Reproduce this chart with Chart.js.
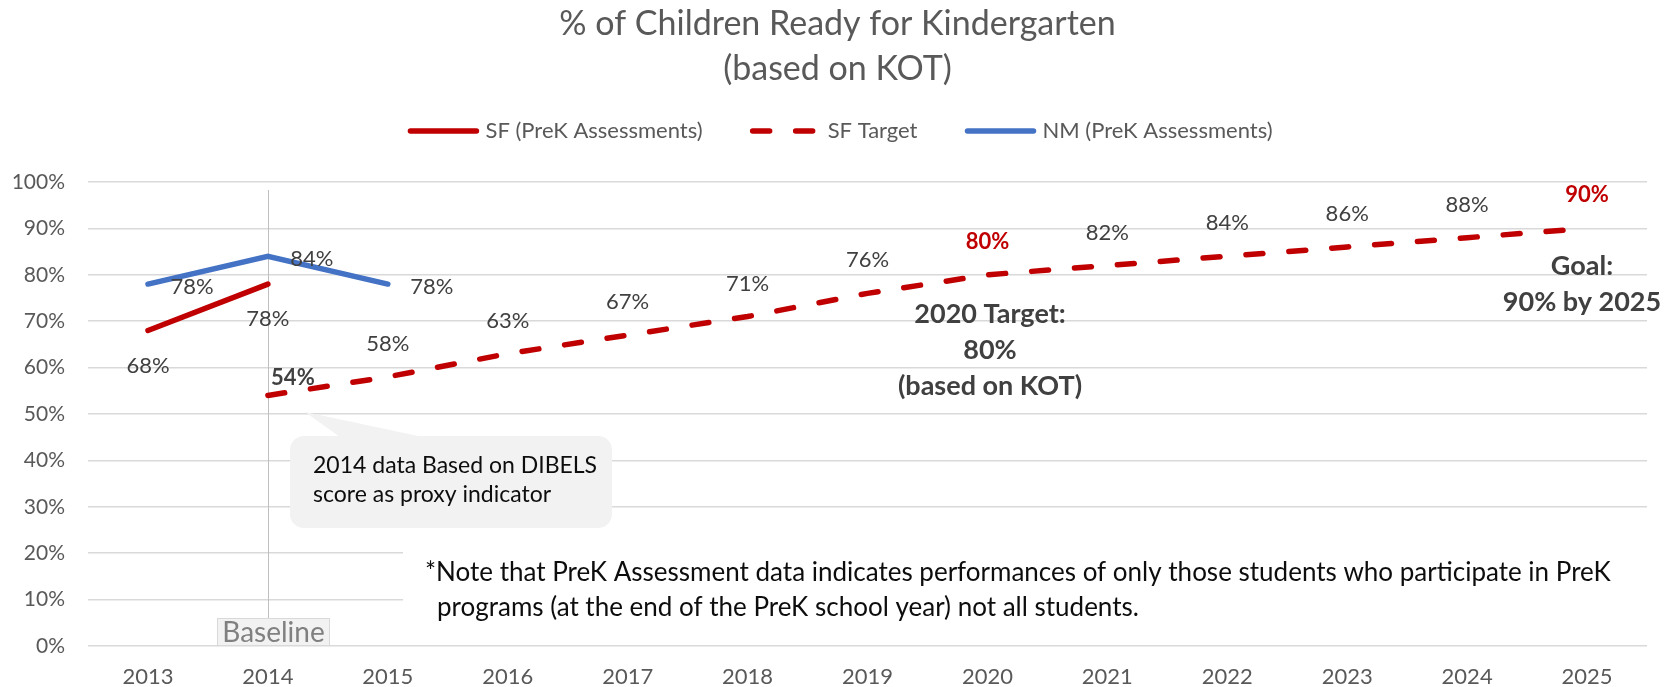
<!DOCTYPE html>
<html>
<head>
<meta charset="utf-8">
<title>% of Children Ready for Kindergarten</title>
<script src="https://cdn.jsdelivr.net/npm/chart.js@4.4.1/dist/chart.umd.min.js"></script>
<style>
  html, body { margin: 0; padding: 0; background: #ffffff; }
  #wrap { width: 1675px; height: 687px; }
</style>
</head>
<body>
<div id="wrap"><canvas id="kotChart" width="1675" height="687"></canvas></div>
<script>
// chart data
const years = ['2013', '2014', '2015', '2016', '2017', '2018', '2019', '2020', '2021', '2022', '2023', '2024', '2025'];
const sfAssessments = [68, 78, null, null, null, null, null, null, null, null, null, null, null];
const sfTarget = [null, 54, 58, 63, 67, 71, 76, 80, 82, 84, 86, 88, 90];
const nmAssessments = [78, 84, 78, null, null, null, null, null, null, null, null, null, null];
const seriesNames = ['SF (PreK Assessments)', 'SF Target', 'NM (PreK Assessments)'];

const RED = '#C00000';
const BLUE = '#4472C4';
const FONT = 'Lato';

// draws the legend, data labels, callout, notes etc.
const overlayPlugin = {
    id: 'overlay',
    beforeDatasetsDraw: function(chart) {
        const ctx = chart.ctx;
        const area = chart.chartArea;
        const y = chart.scales.y;
        const x = chart.scales.x;

        ctx.save();
        // white box behind the footnote hides the lower gridlines
        const top = y.getPixelForValue(27);
        ctx.fillStyle = '#ffffff';
        ctx.fillRect(403, top, area.right - 403, y.getPixelForValue(1) - top);

        // baseline marker line at 2014
        const bx = Math.round(x.getPixelForValue(1)) + 0.5;
        ctx.strokeStyle = '#BFBFBF';
        ctx.lineWidth = 1;
        ctx.beginPath();
        ctx.moveTo(bx, 190);
        ctx.lineTo(bx, 618);
        ctx.stroke();

        // "Baseline" tag
        ctx.fillStyle = '#F2F2F2';
        ctx.fillRect(217, 618, 113, 28);
        ctx.strokeStyle = '#D9D9D9';
        ctx.strokeRect(217.5, 618.5, 112, 27);
        ctx.fillStyle = '#808080';
        ctx.font = '28px ' + FONT;
        ctx.textAlign = 'center';
        ctx.textBaseline = 'middle';
        ctx.fillText('Baseline', 273.5, 633);
        ctx.restore();
    },
    afterDatasetsDraw: function(chart) {
        const ctx = chart.ctx;
        ctx.save();

        // data labels
        chart.data.datasets.forEach(function(ds, i) {
            const meta = chart.getDatasetMeta(i);
            meta.data.forEach(function(pt, j) {
                const v = ds.data[j];
                if (v === null || v === undefined) return;
                let dx = 0, dy = 0, color = '#404040', weight = '';
                if (ds.labelPos === 'below') dy = 35;
                else if (ds.labelPos === 'right') { dx = 44; dy = 3; }
                else dy = -33;
                if (ds.labelPos === 'above' && j === 1) { dx = 25; dy = -18; weight = 'bold '; }
                if (ds.labelPos === 'above' && (j === 7 || j === 12)) { color = RED; weight = 'bold '; }
                ctx.font = weight + '22px ' + FONT;
                ctx.fillStyle = color;
                ctx.textAlign = 'center';
                ctx.textBaseline = 'middle';
                ctx.fillText(v + '%', pt.x + dx, pt.y + dy);
            });
        });

        // target notes
        ctx.font = 'bold 27px ' + FONT;
        ctx.fillStyle = '#404040';
        ctx.textAlign = 'center';
        ctx.textBaseline = 'middle';
        ctx.fillText('2020 Target:', 990, 314);
        ctx.fillText('80%', 990, 350);
        ctx.fillText('(based on KOT)', 990, 386);
        ctx.fillText('Goal:', 1582, 266);
        ctx.fillText('90% by 2025', 1582, 302);

        // callout bubble
        ctx.fillStyle = '#F2F2F2';
        ctx.beginPath();
        ctx.roundRect(290, 436, 322, 92, 14);
        ctx.fill();
        ctx.beginPath();
        ctx.moveTo(305, 412);
        ctx.lineTo(423, 437);
        ctx.lineTo(340, 437);
        ctx.closePath();
        ctx.fill();
        ctx.fillStyle = '#0D0D0D';
        ctx.font = '23px ' + FONT;
        ctx.textAlign = 'left';
        ctx.fillText('2014 data Based on DIBELS', 313, 466);
        ctx.fillText('score as proxy indicator', 313, 495);

        // footnote
        ctx.font = '26px ' + FONT;
        ctx.fillText('*Note that PreK Assessment data indicates performances of only those students who participate in PreK', 425, 573);
        ctx.fillText('programs (at the end of the PreK school year) not all students.', 437, 608);

        // legend
        ctx.font = '22px ' + FONT;
        const items = chart.data.datasets.map(function(ds) {
            return { ds: ds, w: 72 + 6 + ctx.measureText(ds.label).width };
        });
        const gap = 47;
        let total = gap * (items.length - 1);
        items.forEach(function(it) { total += it.w; });
        let lx = 840 - total / 2;
        const ly = 131;
        items.forEach(function(it) {
            ctx.strokeStyle = it.ds.borderColor;
            ctx.lineWidth = 5.5;
            ctx.lineCap = 'round';
            ctx.setLineDash(it.ds.borderDash || []);
            ctx.beginPath();
            ctx.moveTo(lx + 3, ly);
            ctx.lineTo(lx + 69, ly);
            ctx.stroke();
            ctx.setLineDash([]);
            ctx.fillStyle = '#595959';
            ctx.textAlign = 'left';
            ctx.fillText(it.ds.label, lx + 78, ly);
            lx += it.w + gap;
        });

        ctx.restore();
    }
};

new Chart(document.getElementById('kotChart'), {
    type: 'line',
    data: {
        labels: years,
        datasets: [
            {
                label: seriesNames[0],
                data: sfAssessments,
                borderColor: RED,
                borderWidth: 5.5,
                borderCapStyle: 'round',
                pointRadius: 0,
                labelPos: 'below'
            },
            {
                label: seriesNames[1],
                data: sfTarget,
                borderColor: RED,
                borderWidth: 5.5,
                borderDash: [17, 26],
                borderCapStyle: 'round',
                pointRadius: 0,
                labelPos: 'above'
            },
            {
                label: seriesNames[2],
                data: nmAssessments,
                borderColor: BLUE,
                borderWidth: 5.5,
                borderCapStyle: 'round',
                pointRadius: 0,
                labelPos: 'right'
            }
        ]
    },
    options: {
        responsive: false,
        animation: false,
        layout: { padding: 0 },
        font: { family: FONT },
        scales: {
            x: {
                offset: true,
                grid: { display: false, drawTicks: false },
                border: { display: false },
                ticks: { color: '#595959', font: { family: FONT, size: 22 }, padding: 18, maxRotation: 0 },
                afterFit: function(scale) { scale.height = 41; }
            },
            y: {
                min: 0,
                max: 100,
                grid: { color: '#D9D9D9', lineWidth: 1.5, drawTicks: false },
                border: { display: false },
                ticks: {
                    stepSize: 10,
                    color: '#595959',
                    font: { family: FONT, size: 21 },
                    padding: 23,
                    callback: function(v) { return v + '%'; }
                },
                afterFit: function(scale) { scale.width = 88; }
            },
            // empty spacer on the right so the title stays centred on the page
            yRight: {
                position: 'right',
                min: 0,
                max: 100,
                grid: { display: false, drawTicks: false },
                border: { display: false },
                ticks: { display: false },
                afterFit: function(scale) { scale.width = 28; }
            }
        },
        plugins: {
            legend: { display: false },
            tooltip: { enabled: false },
            title: {
                display: true,
                text: ['% of Children Ready for Kindergarten', '(based on KOT)'],
                color: '#595959',
                font: { family: FONT, size: 34, weight: 'normal', lineHeight: 1.338 },
                padding: { top: 1, bottom: 90 }
            }
        }
    },
    plugins: [overlayPlugin]
});
</script>
</body>
</html>
